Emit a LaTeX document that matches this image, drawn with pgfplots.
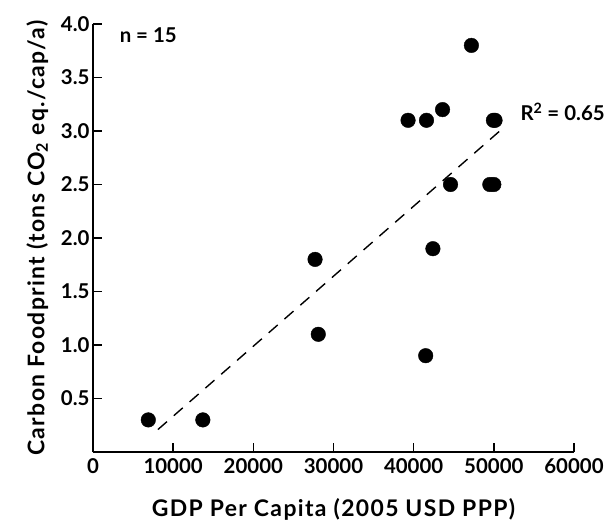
\documentclass[border=0pt]{standalone}
\usepackage{pgfplots}
\pgfplotsset{compat=1.18}
\usepackage{fontspec}
\setmainfont{Lato}
\newfontfamily\labelfont[LetterSpace=6]{Lato}

\begin{document}
\begin{tikzpicture}
\begin{axis}[
    scale only axis,
    width=481bp, height=428bp,
    xmin=0, xmax=60000,
    ymin=0, ymax=4,
    axis lines=left,
    axis line style={-, line width=1.8pt},
    xtick={0,10000,...,60000},
    ytick={0.5,1.0,...,4.0},
    scaled ticks=false,
    tick style={line width=1.6pt, black},
    major tick length=9bp,
    tick align=inside,
    /pgf/number format/assume math mode=true,
    xticklabel style={/pgf/number format/1000 sep={}, yshift=-3bp},
    yticklabel style={/pgf/number format/.cd, fixed, fixed zerofill, precision=1},
    ticklabel style={font=\fontsize{20.5}{22}\bfseries\selectfont},
    label style={font=\labelfont\fontsize{23}{25}\bfseries\selectfont},
    xlabel={GDP Per Capita (2005 USD PPP)},
    ylabel={Carbon Foodprint (tons CO\textsubscript{2} eq./cap/a)},
    xlabel style={yshift=-18bp},
    ylabel style={yshift=6bp},
    clip=false,
]
% measured points
\addplot[only marks, mark=*, mark size=7.3bp, mark options={fill=black, draw=black}] coordinates {
    (6900,0.3) (13700,0.3)
    (27700,1.8) (28100,1.1)
    (39300,3.1) (41600,3.1) (43600,3.2) (47200,3.8)
    (49950,3.1) (50150,3.1)
    (44600,2.5) (49500,2.5) (50000,2.5)
    (42400,1.9) (41500,0.9)
};
% regression line
\addplot[black, line width=1.4pt, dash pattern=on 12bp off 9bp] coordinates {(8100,0.21) (51500,3.05)};
\node[anchor=west, font=\fontsize{20.5}{22}\bfseries\selectfont] at (axis cs:52900,3.18) {R\textsuperscript{2} = 0.65};
\node[anchor=west, font=\fontsize{20.5}{22}\bfseries\selectfont] at (axis cs:2900,3.9) {n = 15};
\end{axis}
\pgfresetboundingbox
\path (-93bp,-75bp) rectangle (522bp,452bp);
\end{tikzpicture}
\end{document}
